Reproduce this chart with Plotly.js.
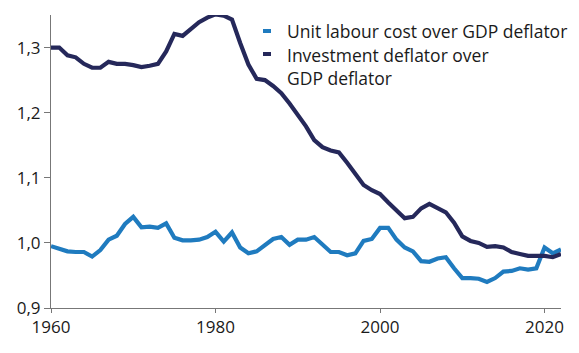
<!DOCTYPE html>
<html>
<head>
<meta charset="utf-8">
<script src="https://cdn.plot.ly/plotly-3.0.1.min.js"></script>
<style>html,body{margin:0;padding:0;background:#fff}#chart{width:579px;height:353px}</style>
</head>
<body>
<div id="chart"></div>
<script>
const years = [];
for (let y = 1960; y <= 2022; y++) years.push(y);

const unitLabourCost = [
  0.995, 0.991, 0.987, 0.986, 0.986, 0.979, 0.989, 1.005, 1.011, 1.029,
  1.040, 1.024, 1.025, 1.023, 1.030, 1.008, 1.004, 1.004, 1.005, 1.009,
  1.017, 1.002, 1.016, 0.993, 0.984, 0.987, 0.996, 1.006, 1.009, 0.997,
  1.005, 1.005, 1.009, 0.997, 0.986, 0.986, 0.981, 0.984, 1.003, 1.006,
  1.023, 1.023, 1.005, 0.993, 0.987, 0.972, 0.971, 0.976, 0.978, 0.961,
  0.946, 0.946, 0.945, 0.940, 0.946, 0.956, 0.957, 0.961, 0.959, 0.961,
  0.993, 0.984, 0.990
];

const investmentDeflator = [
  1.300, 1.300, 1.288, 1.285, 1.275, 1.269, 1.269, 1.278, 1.275, 1.275,
  1.273, 1.270, 1.272, 1.275, 1.294, 1.321, 1.318, 1.329, 1.339, 1.346,
  1.351, 1.349, 1.343, 1.307, 1.274, 1.252, 1.250, 1.241, 1.230, 1.214,
  1.197, 1.179, 1.158, 1.147, 1.142, 1.139, 1.123, 1.106, 1.089, 1.081,
  1.075, 1.062, 1.050, 1.038, 1.040, 1.053, 1.060, 1.053, 1.047, 1.031,
  1.010, 1.003, 1.000, 0.994, 0.995, 0.993, 0.986, 0.983, 0.980, 0.980,
  0.980, 0.978, 0.983
];

const seriesNames = ["Unit labour cost over GDP deflator", "Investment deflator over<br>GDP deflator"];
const xTicks = [1960, 1980, 2000, 2020];
const yTicks = [0.9, 1.0, 1.1, 1.2, 1.3];

const blue = "#1f7bbf";
const navy = "#25285a";
const font = "Open Sans, sans-serif";

const traces = [
  {x: years, y: unitLabourCost, type: "scatter", mode: "lines", name: seriesNames[0],
   line: {color: blue, width: 4.2}},
  {x: years, y: investmentDeflator, type: "scatter", mode: "lines", name: seriesNames[1],
   line: {color: navy, width: 4.2}}
];

const layout = {
  width: 579, height: 353,
  margin: {l: 51, r: 18, t: 15, b: 45},
  paper_bgcolor: "#fff", plot_bgcolor: "#fff",
  separators: ", ",
  showlegend: false,
  font: {family: font, size: 17, color: "#1a1a1a"},
  xaxis: {
    range: [1960, 2022], tickvals: xTicks, ticktext: xTicks.map(String),
    showgrid: false, zeroline: false, showline: true, linecolor: "#777", linewidth: 1,
    ticks: "outside", ticklen: 4, tickcolor: "#777", tickfont: {size: 17}
  },
  yaxis: {
    range: [0.9, 1.35], tickvals: yTicks, tickformat: ".1f",
    showgrid: false, zeroline: false, showline: true, linecolor: "#777", linewidth: 1,
    ticks: "outside", ticklen: 6, tickcolor: "#777", tickfont: {size: 17}
  },
  annotations: [
    {xref: "paper", yref: "paper", x: (285-51)/510, y: (308-31)/293, xanchor: "left", yanchor: "middle",
     text: seriesNames[0], showarrow: false, font: {size: 17.5}, align: "left"},
    {xref: "paper", yref: "paper", x: (285-51)/510, y: (308-66.5)/293, xanchor: "left", yanchor: "middle",
     text: seriesNames[1], showarrow: false, font: {size: 17.5}, align: "left"}
  ],
  shapes: [
    {type: "rect", xref: "paper", yref: "paper", x0: (263-51)/510, x1: (271-51)/510,
     y0: (308-33)/293, y1: (308-29)/293, fillcolor: blue, line: {width: 0}},
    {type: "rect", xref: "paper", yref: "paper", x0: (263-51)/510, x1: (271-51)/510,
     y0: (308-56)/293, y1: (308-52)/293, fillcolor: navy, line: {width: 0}}
  ]
};

Plotly.newPlot("chart", traces, layout, {displayModeBar: false, staticPlot: true});
</script>
</body>
</html>
